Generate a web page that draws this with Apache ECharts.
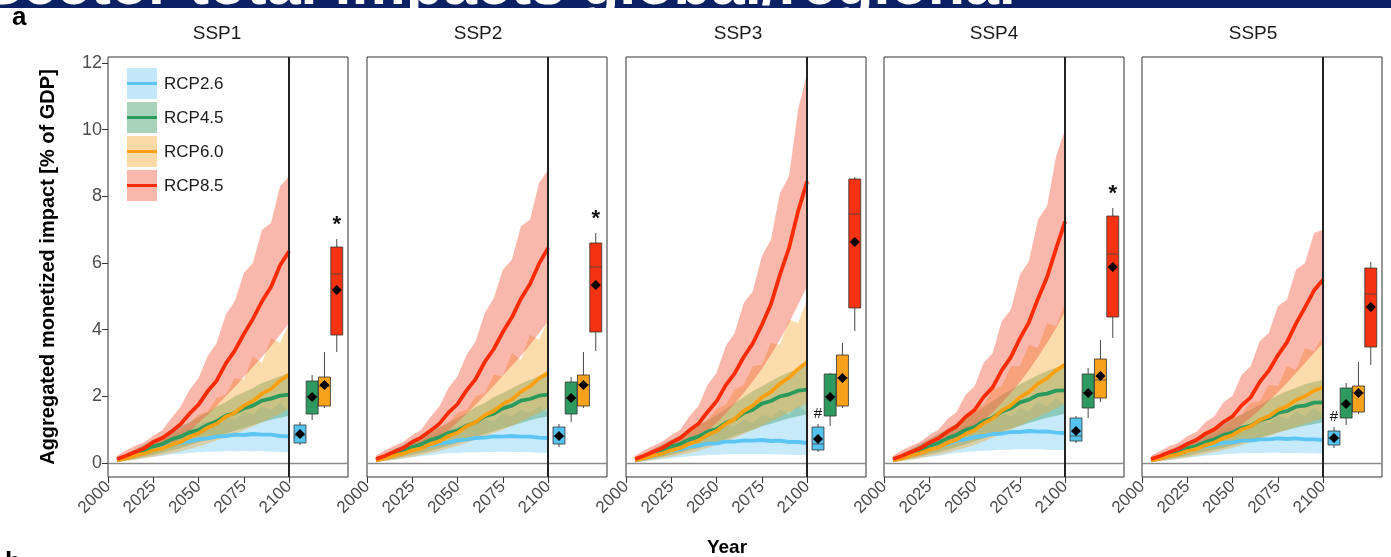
<!DOCTYPE html>
<html>
<head>
<meta charset="utf-8">
<title>Sector total impacts</title>
<script src="https://cdn.jsdelivr.net/npm/echarts@6.0.0/dist/echarts.min.js"></script>
<style>
html, body { margin: 0; padding: 0; background: #fff; }
#chart { width: 1391px; height: 557px; }
</style>
</head>
<body>
<div id="chart"></div>
<script>
// years of the time series
var years = [2005, 2010, 2015, 2020, 2025, 2030, 2035, 2040, 2045, 2050,
             2055, 2060, 2065, 2070, 2075, 2080, 2085, 2090, 2095, 2100];
var panelNames = ['SSP1', 'SSP2', 'SSP3', 'SSP4', 'SSP5'];
var rcpNames = ['RCP2.6', 'RCP4.5', 'RCP6.0', 'RCP8.5'];
var yTicks = [0, 2, 4, 6, 8, 10, 12];
var xTicks = [2000, 2025, 2050, 2075, 2100];

// SSP1
var s1_26    = [0.08,0.15,0.24,0.32,0.40,0.48,0.55,0.61,0.65,0.71,0.74,0.79,0.81,0.85,0.84,0.87,0.85,0.85,0.81,0.80];
var s1_26_lo = [0.03,0.06,0.10,0.14,0.18,0.22,0.26,0.28,0.30,0.32,0.34,0.34,0.36,0.35,0.36,0.35,0.36,0.34,0.33,0.32];
var s1_26_hi = [0.14,0.25,0.40,0.52,0.65,0.75,0.85,0.95,1.05,1.15,1.25,1.20,1.40,1.30,1.55,1.45,1.70,1.60,1.80,1.55];
var s1_45    = [0.09,0.17,0.28,0.36,0.49,0.57,0.71,0.79,0.92,0.99,1.14,1.25,1.42,1.50,1.64,1.72,1.87,1.93,2.02,2.05];
var s1_45_lo = [0.04,0.08,0.13,0.19,0.25,0.31,0.38,0.45,0.53,0.62,0.70,0.80,0.88,0.97,1.05,1.13,1.22,1.30,1.36,1.42];
var s1_45_hi = [0.15,0.27,0.42,0.56,0.70,0.83,0.98,1.10,1.22,1.38,1.52,1.70,1.82,2.00,2.12,2.25,2.40,2.50,2.60,2.70];
var s1_60    = [0.08,0.14,0.22,0.28,0.38,0.44,0.55,0.63,0.78,0.89,1.06,1.18,1.39,1.51,1.72,1.86,2.08,2.22,2.47,2.65];
var s1_60_lo = [0.03,0.06,0.10,0.14,0.19,0.24,0.29,0.35,0.42,0.50,0.58,0.68,0.78,0.88,0.98,1.10,1.22,1.35,1.48,1.62];
var s1_60_hi = [0.14,0.24,0.35,0.48,0.60,0.72,0.86,1.02,1.18,1.45,1.55,1.95,2.05,2.55,2.50,3.20,3.00,3.75,3.60,4.20];
var s1_85    = [0.12,0.22,0.33,0.44,0.63,0.75,0.94,1.16,1.48,1.75,2.15,2.47,2.98,3.37,3.87,4.32,4.85,5.28,5.93,6.35];
var s1_85_lo = [0.05,0.10,0.17,0.25,0.35,0.45,0.57,0.74,0.95,1.20,1.45,1.72,2.00,2.28,2.58,2.88,3.18,3.50,3.85,4.20];
var s1_85_hi = [0.22,0.38,0.52,0.62,0.82,0.98,1.35,1.68,2.20,2.55,3.20,3.60,4.45,4.85,5.70,6.00,7.00,7.20,8.30,8.60];

// SSP2
var s2_26    = [0.08,0.15,0.23,0.31,0.39,0.47,0.52,0.59,0.62,0.68,0.70,0.75,0.76,0.80,0.79,0.81,0.79,0.79,0.76,0.75];
var s2_26_lo = [0.03,0.06,0.10,0.13,0.17,0.21,0.24,0.27,0.29,0.30,0.32,0.32,0.33,0.33,0.34,0.33,0.33,0.32,0.31,0.30];
var s2_26_hi = [0.14,0.25,0.38,0.50,0.62,0.72,0.82,0.92,1.00,1.10,1.20,1.15,1.35,1.25,1.50,1.40,1.60,1.50,1.70,1.50];
var s2_45    = [0.09,0.17,0.28,0.36,0.48,0.56,0.69,0.77,0.90,0.97,1.12,1.22,1.40,1.48,1.64,1.72,1.87,1.92,2.02,2.05];
var s2_45_lo = [0.04,0.08,0.13,0.19,0.25,0.31,0.37,0.44,0.52,0.60,0.68,0.78,0.87,0.96,1.04,1.12,1.20,1.28,1.35,1.40];
var s2_45_hi = [0.15,0.27,0.41,0.55,0.68,0.81,0.96,1.08,1.20,1.36,1.50,1.68,1.80,1.98,2.10,2.24,2.38,2.50,2.60,2.70];
var s2_60    = [0.08,0.14,0.22,0.28,0.38,0.44,0.56,0.65,0.81,0.91,1.10,1.22,1.43,1.56,1.77,1.91,2.14,2.30,2.54,2.70];
var s2_60_lo = [0.03,0.06,0.10,0.14,0.19,0.24,0.30,0.36,0.44,0.52,0.60,0.70,0.80,0.90,1.00,1.12,1.24,1.37,1.50,1.65];
var s2_60_hi = [0.14,0.24,0.35,0.48,0.60,0.73,0.88,1.06,1.22,1.50,1.60,2.00,2.10,2.65,2.60,3.30,3.10,3.85,3.70,4.30];
var s2_85    = [0.12,0.22,0.34,0.45,0.63,0.77,0.97,1.18,1.51,1.77,2.18,2.52,3.03,3.42,3.93,4.37,4.93,5.37,5.98,6.45];
var s2_85_lo = [0.05,0.10,0.17,0.25,0.35,0.46,0.58,0.76,0.97,1.22,1.48,1.75,2.03,2.32,2.62,2.92,3.22,3.55,3.90,4.25];
var s2_85_hi = [0.22,0.38,0.52,0.63,0.84,1.00,1.38,1.70,2.25,2.60,3.25,3.65,4.50,4.95,5.80,6.10,7.10,7.30,8.40,8.80];

// SSP3
var s3_26    = [0.07,0.13,0.21,0.28,0.36,0.41,0.49,0.52,0.58,0.59,0.64,0.64,0.68,0.67,0.69,0.66,0.67,0.63,0.63,0.60];
var s3_26_lo = [0.03,0.05,0.08,0.11,0.14,0.17,0.20,0.22,0.24,0.25,0.26,0.27,0.27,0.27,0.27,0.26,0.26,0.25,0.24,0.23];
var s3_26_hi = [0.13,0.23,0.35,0.46,0.57,0.67,0.77,0.86,0.95,1.05,1.15,1.10,1.30,1.20,1.45,1.35,1.60,1.45,1.75,1.50];
var s3_45    = [0.09,0.17,0.28,0.36,0.49,0.57,0.71,0.79,0.94,1.02,1.20,1.31,1.50,1.60,1.78,1.86,2.00,2.06,2.17,2.20];
var s3_45_lo = [0.04,0.08,0.13,0.19,0.25,0.31,0.38,0.45,0.53,0.62,0.71,0.81,0.91,1.00,1.10,1.18,1.26,1.34,1.40,1.46];
var s3_45_hi = [0.15,0.27,0.42,0.56,0.70,0.84,1.00,1.14,1.28,1.44,1.62,1.80,1.98,2.15,2.30,2.45,2.60,2.72,2.82,2.92];
var s3_60    = [0.08,0.14,0.22,0.28,0.38,0.45,0.57,0.67,0.84,0.96,1.17,1.32,1.56,1.72,1.97,2.13,2.38,2.56,2.82,3.02];
var s3_60_lo = [0.03,0.06,0.10,0.14,0.19,0.24,0.30,0.37,0.45,0.54,0.64,0.75,0.87,0.99,1.12,1.25,1.38,1.52,1.66,1.80];
var s3_60_hi = [0.14,0.24,0.36,0.49,0.62,0.76,0.92,1.14,1.28,1.62,1.75,2.20,2.35,2.90,2.95,3.60,3.55,4.30,4.20,4.90];
var s3_85    = [0.12,0.22,0.34,0.45,0.61,0.75,0.98,1.18,1.53,1.85,2.33,2.69,3.18,3.59,4.14,4.76,5.65,6.45,7.55,8.45];
var s3_85_lo = [0.05,0.10,0.17,0.25,0.34,0.45,0.58,0.75,0.95,1.20,1.48,1.78,2.10,2.45,2.82,3.25,3.70,4.20,4.75,5.30];
var s3_85_hi = [0.22,0.38,0.52,0.64,0.84,1.00,1.40,1.70,2.35,2.70,3.50,3.90,4.80,5.15,6.20,6.70,8.10,8.60,10.60,11.70];

// SSP4
var s4_26    = [0.08,0.15,0.24,0.33,0.42,0.51,0.57,0.66,0.71,0.78,0.81,0.87,0.88,0.93,0.93,0.96,0.94,0.95,0.91,0.90];
var s4_26_lo = [0.03,0.06,0.10,0.14,0.18,0.22,0.26,0.30,0.33,0.35,0.37,0.38,0.40,0.40,0.41,0.41,0.41,0.40,0.39,0.38];
var s4_26_hi = [0.14,0.26,0.40,0.53,0.66,0.78,0.90,1.00,1.12,1.22,1.32,1.28,1.50,1.40,1.65,1.55,1.85,1.70,1.95,1.75];
var s4_45    = [0.09,0.18,0.29,0.38,0.51,0.60,0.74,0.84,0.99,1.08,1.26,1.36,1.54,1.64,1.82,1.90,2.04,2.08,2.17,2.18];
var s4_45_lo = [0.04,0.08,0.14,0.20,0.26,0.32,0.40,0.48,0.56,0.65,0.74,0.84,0.94,1.03,1.12,1.20,1.28,1.36,1.42,1.48];
var s4_45_hi = [0.15,0.28,0.43,0.58,0.72,0.87,1.03,1.18,1.34,1.50,1.68,1.86,2.04,2.20,2.36,2.50,2.64,2.76,2.86,2.95];
var s4_60    = [0.08,0.14,0.23,0.29,0.40,0.47,0.60,0.70,0.87,0.98,1.19,1.33,1.57,1.73,1.97,2.13,2.38,2.54,2.78,2.95];
var s4_60_lo = [0.03,0.06,0.10,0.15,0.20,0.25,0.31,0.38,0.46,0.55,0.65,0.76,0.88,1.00,1.12,1.25,1.38,1.51,1.64,1.78];
var s4_60_hi = [0.14,0.24,0.37,0.50,0.64,0.78,0.94,1.16,1.30,1.65,1.75,2.20,2.30,2.90,2.90,3.55,3.45,4.20,4.10,4.80];
var s4_85    = [0.12,0.22,0.33,0.44,0.61,0.74,0.94,1.10,1.38,1.59,1.98,2.27,2.78,3.17,3.73,4.22,4.93,5.57,6.43,7.25];
var s4_85_lo = [0.05,0.10,0.17,0.25,0.34,0.45,0.57,0.72,0.88,1.06,1.28,1.52,1.80,2.10,2.42,2.78,3.18,3.60,4.05,4.55];
var s4_85_hi = [0.22,0.38,0.52,0.63,0.84,1.00,1.32,1.52,2.05,2.30,3.00,3.30,4.25,4.60,5.65,6.05,7.30,7.70,9.20,10.00];

// SSP5
var s5_26    = [0.08,0.14,0.22,0.30,0.38,0.43,0.51,0.54,0.61,0.62,0.67,0.67,0.71,0.71,0.74,0.72,0.74,0.71,0.71,0.69];
var s5_26_lo = [0.03,0.05,0.09,0.12,0.15,0.19,0.22,0.24,0.26,0.28,0.29,0.30,0.30,0.31,0.31,0.30,0.30,0.29,0.29,0.28];
var s5_26_hi = [0.13,0.24,0.36,0.48,0.59,0.69,0.79,0.88,0.97,1.06,1.16,1.12,1.30,1.20,1.42,1.32,1.55,1.42,1.65,1.45];
var s5_45    = [0.09,0.16,0.26,0.33,0.44,0.51,0.63,0.71,0.84,0.91,1.05,1.12,1.28,1.35,1.50,1.56,1.69,1.72,1.81,1.82];
var s5_45_lo = [0.04,0.08,0.12,0.17,0.22,0.28,0.34,0.40,0.46,0.53,0.60,0.68,0.76,0.84,0.92,0.99,1.06,1.12,1.17,1.22];
var s5_45_hi = [0.14,0.25,0.38,0.51,0.64,0.76,0.90,1.03,1.17,1.31,1.46,1.60,1.75,1.90,2.03,2.15,2.26,2.36,2.44,2.50];
var s5_60    = [0.08,0.13,0.21,0.26,0.36,0.42,0.53,0.61,0.75,0.84,1.00,1.10,1.29,1.40,1.59,1.70,1.89,2.00,2.17,2.27];
var s5_60_lo = [0.03,0.05,0.09,0.13,0.17,0.22,0.27,0.33,0.39,0.46,0.54,0.62,0.71,0.80,0.90,0.99,1.08,1.17,1.26,1.35];
var s5_60_hi = [0.13,0.23,0.34,0.45,0.57,0.69,0.82,0.98,1.10,1.36,1.45,1.80,1.85,2.35,2.30,2.90,2.80,3.45,3.35,3.80];
var s5_85    = [0.12,0.21,0.32,0.42,0.57,0.69,0.88,1.01,1.23,1.40,1.73,1.97,2.43,2.77,3.23,3.62,4.18,4.67,5.18,5.50];
var s5_85_lo = [0.05,0.10,0.16,0.23,0.32,0.42,0.53,0.66,0.80,0.96,1.15,1.36,1.60,1.86,2.12,2.40,2.70,3.00,3.30,3.60];
var s5_85_hi = [0.22,0.36,0.50,0.60,0.80,0.93,1.22,1.40,1.82,2.02,2.65,2.90,3.65,3.90,4.70,4.90,5.80,6.00,6.90,7.00];

// end-of-century boxplots: [min, q1, median, q3, max, mean] for RCP2.6, 4.5, 6.0, 8.5
var box_s1 = [[0.54,0.60,0.82,1.14,1.23,0.87], [1.29,1.47,2.00,2.46,2.64,1.98], [1.65,1.71,2.30,2.58,3.33,2.34], [3.33,3.84,5.67,6.48,6.72,5.19]];
var box_s2 = [[0.48,0.57,0.80,1.08,1.17,0.81], [1.23,1.47,1.95,2.43,2.58,1.95], [1.65,1.71,2.35,2.64,3.33,2.34], [3.36,3.93,5.88,6.60,6.90,5.34]];
var box_s3 = [[0.33,0.39,0.57,1.08,1.17,0.72], [1.11,1.41,2.00,2.67,2.70,1.98], [1.65,1.71,2.55,3.24,3.60,2.55], [3.96,4.65,7.47,8.52,8.58,6.63]];
var box_s4 = [[0.60,0.66,0.81,1.35,1.41,0.96], [1.35,1.65,2.10,2.67,2.85,2.10], [1.83,1.95,2.49,3.12,3.69,2.61], [3.75,4.38,6.27,7.41,7.65,5.88]];
var box_s5 = [[0.45,0.54,0.75,0.96,1.08,0.75], [1.14,1.35,1.77,2.25,2.40,1.77], [1.47,1.53,2.10,2.31,3.03,2.10], [2.94,3.48,5.07,5.85,6.03,4.68]];
// significance marks above boxes
var marks_s1 = ['', '', '', '*'];
var marks_s2 = ['', '', '', '*'];
var marks_s3 = ['#', '', '', ''];
var marks_s4 = ['', '', '', '*'];
var marks_s5 = ['#', '', '', ''];

var panels = [
  {mean: [s1_26, s1_45, s1_60, s1_85], lo: [s1_26_lo, s1_45_lo, s1_60_lo, s1_85_lo], hi: [s1_26_hi, s1_45_hi, s1_60_hi, s1_85_hi], box: box_s1, marks: marks_s1},
  {mean: [s2_26, s2_45, s2_60, s2_85], lo: [s2_26_lo, s2_45_lo, s2_60_lo, s2_85_lo], hi: [s2_26_hi, s2_45_hi, s2_60_hi, s2_85_hi], box: box_s2, marks: marks_s2},
  {mean: [s3_26, s3_45, s3_60, s3_85], lo: [s3_26_lo, s3_45_lo, s3_60_lo, s3_85_lo], hi: [s3_26_hi, s3_45_hi, s3_60_hi, s3_85_hi], box: box_s3, marks: marks_s3},
  {mean: [s4_26, s4_45, s4_60, s4_85], lo: [s4_26_lo, s4_45_lo, s4_60_lo, s4_85_lo], hi: [s4_26_hi, s4_45_hi, s4_60_hi, s4_85_hi], box: box_s4, marks: marks_s4},
  {mean: [s5_26, s5_45, s5_60, s5_85], lo: [s5_26_lo, s5_45_lo, s5_60_lo, s5_85_lo], hi: [s5_26_hi, s5_45_hi, s5_60_hi, s5_85_hi], box: box_s5, marks: marks_s5}
];

// styling
var lineColors = ['#5bc5f4', '#2b9a5d', '#fc9f10', '#ff2b05'];
var bandColors = ['#62c4f2', '#3a9d66', '#f8a630', '#f4533a'];
var bandOpacity = [0.36, 0.42, 0.40, 0.42];
var keyColors = ['#c3e8fb', '#a6d3ba', '#fcdaa8', '#fab7ac'];
var boxColors = ['#56c2ee', '#2e9a60', '#f8a11a', '#f53312'];
var boxSlots = [2106, 2112.7, 2119.5, 2126.3];
var boxWidth = 6.6;
var panelLeft = [108, 367, 626, 884, 1142];
var stripX = [217, 478, 738, 994, 1253];
var FONT = 'Liberation Sans';

var chart = echarts.init(document.getElementById('chart'), null, {renderer: 'canvas'});

var grids = [], xAxes = [], yAxes = [], series = [];

function bandSeries(k, lo, hi, r) {
  var data = years.map(function (y, i) { return [y, lo[i], hi[i]]; });
  return {
    type: 'custom', xAxisIndex: k, yAxisIndex: k, z: 1, silent: true, data: data,
    renderItem: function (params, api) {
      if (params.dataIndex !== 0) return null;
      var pts = [];
      for (var i = 0; i < data.length; i++) pts.push(api.coord([data[i][0], data[i][2]]));
      for (var j = data.length - 1; j >= 0; j--) pts.push(api.coord([data[j][0], data[j][1]]));
      return {type: 'polygon', shape: {points: pts}, style: {fill: bandColors[r], opacity: bandOpacity[r]}};
    }
  };
}

function boxSeries(k, stats, marks) {
  var data = stats.map(function (s, i) { return [boxSlots[i], s[0], s[1], s[2], s[3], s[4], s[5], i]; });
  return {
    type: 'custom', xAxisIndex: k, yAxisIndex: k, z: 6, silent: true, data: data,
    renderItem: function (params, api) {
      var x = api.value(0), i = api.value(7);
      var half = api.size([boxWidth, 0])[0] / 2;
      var pMin = api.coord([x, api.value(1)]);
      var pQ1 = api.coord([x, api.value(2)]);
      var pMed = api.coord([x, api.value(3)]);
      var pQ3 = api.coord([x, api.value(4)]);
      var pMax = api.coord([x, api.value(5)]);
      var pMean = api.coord([x, api.value(6)]);
      var cx = pQ1[0];
      var d = 5;
      var children = [
        {type: 'line', shape: {x1: cx, y1: pMax[1], x2: cx, y2: pQ3[1]}, style: {stroke: '#333', lineWidth: 0.9}},
        {type: 'line', shape: {x1: cx, y1: pQ1[1], x2: cx, y2: pMin[1]}, style: {stroke: '#333', lineWidth: 0.9}},
        {type: 'rect', shape: {x: cx - half, y: pQ3[1], width: half * 2, height: pQ1[1] - pQ3[1]},
          style: {fill: boxColors[i], stroke: '#333', lineWidth: 0.8}},
        {type: 'line', shape: {x1: cx - half, y1: pMed[1], x2: cx + half, y2: pMed[1]}, style: {stroke: '#444', lineWidth: 0.8}},
        {type: 'polygon', shape: {points: [[cx, pMean[1] - d], [cx + d, pMean[1]], [cx, pMean[1] + d], [cx - d, pMean[1]]]},
          style: {fill: '#000'}}
      ];
      var m = marks[i];
      if (m) {
        children.push({type: 'text', x: cx, y: pMax[1] - 3,
          style: {text: m, fill: '#111', align: 'center', verticalAlign: 'bottom',
            font: (m === '*' ? 'bold 22px ' : '15px ') + '"' + FONT + '"'}});
      }
      return {type: 'group', children: children};
    }
  };
}

panels.forEach(function (p, k) {
  grids.push({left: panelLeft[k], top: 57, width: 240, height: 420, show: true,
    borderColor: '#333', borderWidth: 1, backgroundColor: 'transparent'});
  xAxes.push({
    type: 'value', gridIndex: k, min: 2000, max: 2132.5,
    axisLine: {show: false, onZero: false},
    splitLine: {show: false},
    axisTick: {show: true, length: 6, lineStyle: {color: '#333', width: 1}, customValues: xTicks},
    axisLabel: {customValues: xTicks, rotate: 45, fontSize: 17, color: '#4d4d4d', margin: 7, fontFamily: FONT,
      formatter: function (v) { return String(v); }}
  });
  yAxes.push({
    type: 'value', gridIndex: k, min: -0.42, max: 12.18,
    axisLine: {show: false, onZero: false},
    splitLine: {show: false},
    axisTick: {show: k === 0, length: 6, lineStyle: {color: '#333', width: 1}, customValues: yTicks},
    axisLabel: {show: k === 0, customValues: yTicks, fontSize: 18, color: '#4d4d4d', margin: 6, fontFamily: FONT},
    name: k === 0 ? 'Aggregated monetized impact [% of GDP]' : '',
    nameLocation: 'middle', nameGap: 50, nameRotate: 90,
    nameTextStyle: {fontSize: 20, fontWeight: 'bold', color: '#000', fontFamily: FONT}
  });
  for (var r = 0; r < 4; r++) series.push(bandSeries(k, p.lo[r], p.hi[r], r));
  for (var r2 = 0; r2 < 4; r2++) {
    var s = {
      type: 'line', name: rcpNames[r2], xAxisIndex: k, yAxisIndex: k, z: 3,
      showSymbol: false, silent: true,
      data: years.map(function (y, i) { return [y, p.mean[r2][i]]; }),
      lineStyle: {color: lineColors[r2], width: 3.8, join: 'round'}
    };
    if (r2 === 0) {
      s.markLine = {
        silent: true, symbol: 'none', label: {show: false}, animation: false,
        data: [
          {yAxis: 0, lineStyle: {color: '#8a8a8a', width: 1.4, type: 'solid'}},
          {xAxis: 2100, lineStyle: {color: '#222', width: 2, type: 'solid'}}
        ]
      };
    }
    series.push(s);
  }
  series.push(boxSeries(k, p.box, p.marks));
});

var graphic = [
  {type: 'rect', shape: {x: 0, y: 0, width: 1391, height: 8}, style: {fill: '#0c2064'}, z: 10},
  {type: 'text', x: -18, y: 18, z: 11, style: {text: 'Sector total impacts global/regional',
    font: 'bold 61px "' + FONT + '"', fill: '#fff', verticalAlign: 'bottom'}},
  {type: 'rect', shape: {x: 0, y: 8, width: 1391, height: 15}, style: {fill: '#fff'}, z: 12},
  {type: 'text', x: 12, y: 18, z: 13, style: {text: 'a', font: 'bold 26px "' + FONT + '"', fill: '#000', verticalAlign: 'middle'}},
  {type: 'text', x: 5, y: 550, style: {text: 'b', font: 'bold 26px "' + FONT + '"', fill: '#000', verticalAlign: 'top'}},
  {type: 'text', x: 727, y: 548, style: {text: 'Year', font: 'bold 19px "' + FONT + '"', fill: '#000', align: 'center', verticalAlign: 'middle'}}
];
panelNames.forEach(function (n, k) {
  graphic.push({type: 'text', x: stripX[k], y: 34, style: {text: n, font: '19px "' + FONT + '"', fill: '#1a1a1a', align: 'center', verticalAlign: 'middle'}});
});
rcpNames.forEach(function (n, i) {
  var y0 = 68 + i * 34;
  graphic.push({type: 'rect', shape: {x: 127, y: y0, width: 30, height: 31}, style: {fill: keyColors[i]}, z: 20});
  graphic.push({type: 'line', shape: {x1: 127, y1: y0 + 15.5, x2: 157, y2: y0 + 15.5}, style: {stroke: lineColors[i], lineWidth: 3}, z: 21});
  graphic.push({type: 'text', x: 164, y: y0 + 16, z: 21, style: {text: n, font: '17px "' + FONT + '"', fill: '#1a1a1a', verticalAlign: 'middle'}});
});

chart.setOption({
  animation: false,
  backgroundColor: '#fff',
  grid: grids,
  xAxis: xAxes,
  yAxis: yAxes,
  series: series,
  graphic: graphic
});
</script>
</body>
</html>
